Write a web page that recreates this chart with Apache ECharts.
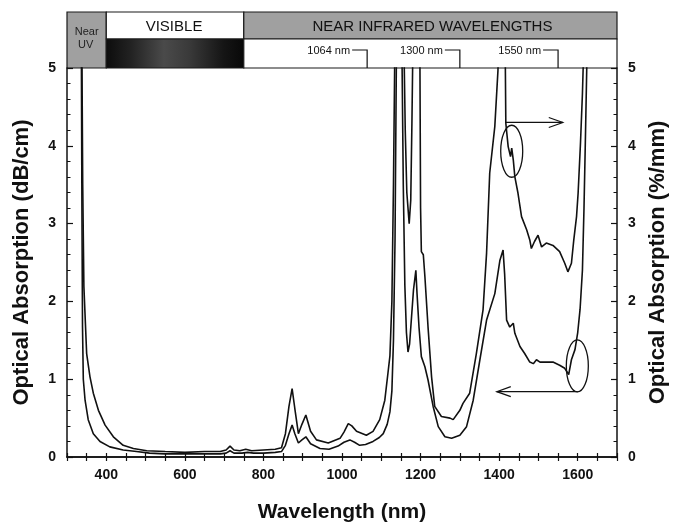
<!DOCTYPE html>
<html>
<head>
<meta charset="utf-8">
<script src="https://cdn.jsdelivr.net/npm/echarts@6/dist/echarts.min.js"></script>
<style>
  html, body { margin: 0; padding: 0; background: #ffffff; }
  #chart { width: 673px; height: 523px; }
</style>
</head>
<body>
<div id="chart"></div>
<script>
// Absorption of the polymer, in dB/cm (left axis)
const lowerNm = [333, 336, 338, 339.5, 341.5, 346, 354, 367, 384, 409, 443, 477, 510, 550, 600, 650, 690, 705, 715, 725, 745, 760, 775, 800, 830, 846, 856, 865, 873, 880, 889, 898, 908, 920, 944, 967, 990, 1005, 1020, 1032, 1045, 1060, 1079, 1095, 1105, 1115, 1122, 1127, 1131, 1135, 1139, 1146, 1152, 1156, 1160, 1164, 1168, 1172, 1177, 1182, 1188, 1191, 1196, 1202, 1211, 1219, 1232, 1245, 1262, 1279, 1300, 1317, 1334, 1351, 1368, 1389, 1402, 1410, 1414, 1419, 1427, 1436, 1440, 1453, 1465, 1478, 1487, 1495, 1504, 1520, 1537, 1554, 1567, 1577, 1584, 1593, 1600, 1606, 1612, 1616, 1620, 1623, 1626];
const lowerDb = [8, 6.0, 3.2, 1.67, 1.0, 0.73, 0.48, 0.30, 0.20, 0.13, 0.09, 0.07, 0.05, 0.04, 0.04, 0.04, 0.04, 0.05, 0.08, 0.05, 0.05, 0.06, 0.05, 0.05, 0.06, 0.07, 0.15, 0.30, 0.41, 0.30, 0.18, 0.22, 0.26, 0.17, 0.11, 0.10, 0.14, 0.19, 0.22, 0.19, 0.15, 0.16, 0.20, 0.25, 0.30, 0.42, 0.58, 0.85, 1.5, 2.8, 5.5, 7, 5.5, 3.5, 2.2, 1.6, 1.35, 1.45, 1.8, 2.15, 2.40, 2.1, 1.67, 1.29, 1.16, 0.99, 0.65, 0.39, 0.26, 0.24, 0.28, 0.39, 0.73, 1.25, 1.76, 2.1, 2.53, 2.66, 2.35, 1.76, 1.67, 1.72, 1.59, 1.42, 1.33, 1.22, 1.20, 1.25, 1.22, 1.22, 1.22, 1.18, 1.14, 1.06, 1.25, 1.38, 1.6, 1.9, 2.4, 3.2, 4.2, 5.0, 6.5];

// Absorption of the polymer, in %/mm (right axis)
const upperNm = [333, 337, 340, 343, 350, 358.5, 367, 380, 397, 418, 443, 469, 503, 550, 600, 650, 690, 705, 715, 725, 740, 755, 770, 800, 830, 846, 856, 865, 873, 880, 889, 898, 908, 920, 935, 965, 995, 1005, 1016, 1025, 1037, 1062, 1079, 1096, 1109, 1117, 1122, 1127, 1131, 1135, 1145, 1157, 1161, 1165, 1171, 1175, 1178, 1181, 1190, 1198, 1200, 1202, 1207, 1211, 1219, 1228, 1236, 1253, 1275, 1283, 1300, 1308, 1325, 1342, 1359, 1368, 1376, 1389, 1397, 1402, 1410, 1415, 1417, 1423, 1429, 1432, 1436, 1440, 1448, 1457, 1470, 1478, 1482, 1490, 1499, 1508, 1520, 1537, 1554, 1567, 1575, 1580, 1584, 1590, 1597, 1601, 1607, 1612, 1615, 1619];
const upperPct = [8, 6.0, 3.5, 2.19, 1.33, 1.03, 0.82, 0.60, 0.41, 0.26, 0.15, 0.11, 0.08, 0.07, 0.06, 0.07, 0.07, 0.09, 0.14, 0.09, 0.08, 0.10, 0.08, 0.09, 0.10, 0.12, 0.30, 0.65, 0.88, 0.62, 0.30, 0.42, 0.54, 0.33, 0.22, 0.18, 0.24, 0.32, 0.43, 0.40, 0.33, 0.28, 0.33, 0.48, 0.73, 1.08, 1.30, 2.0, 3.5, 5.5, 9, 5.5, 4.2, 3.4, 3.0, 3.3, 4.3, 5.5, 9, 5.5, 3.2, 2.64, 2.6, 2.32, 1.67, 1.03, 0.65, 0.52, 0.50, 0.48, 0.60, 0.69, 0.82, 1.33, 1.89, 2.62, 3.65, 4.25, 4.97, 6, 7, 5.5, 4.29, 3.99, 3.86, 3.97, 3.82, 3.60, 3.39, 3.09, 2.92, 2.79, 2.68, 2.77, 2.85, 2.70, 2.75, 2.72, 2.64, 2.49, 2.38, 2.36, 2.49, 2.79, 3.09, 3.39, 4.03, 4.67, 5.2, 7];

// Axis tick labels
const xTickLabels = [400, 600, 800, 1000, 1200, 1400, 1600];
const yTickLabels = [0, 1, 2, 3, 4, 5];

// Spectral bands shown above the plot
const bandNames = ['Near\nUV', 'VISIBLE', 'NEAR INFRARED WAVELENGTHS'];
const bandEdges = [300, 400, 750, 1700];

// Common laser wavelengths marked in the header
const laserNm = [1064, 1300, 1550];

const zip = (xs, ys) => xs.map((x, i) => [x, ys[i]]);
const FONT = '"Liberation Sans", Arial, Helvetica, sans-serif';
const INK = '#111111';

const chart = echarts.init(document.getElementById('chart'), null, { renderer: 'canvas' });

const yAxisBase = {
  type: 'value', min: 0, max: 5, interval: 1,
  axisLine: { show: true, lineStyle: { color: INK, width: 1.5 } },
  axisTick: { show: true, inside: true, length: 6, lineStyle: { color: INK, width: 1.2 } },
  minorTick: { show: true, splitNumber: 5, length: 3.5, lineStyle: { color: INK, width: 1 } },
  splitLine: { show: false },
  axisLabel: { color: INK, fontFamily: FONT, fontWeight: 'bold', fontSize: 14, margin: 11,
               customValues: yTickLabels, formatter: v => String(v) },
  nameLocation: 'middle', nameRotate: 90,
  nameTextStyle: { color: INK, fontFamily: FONT, fontWeight: 'bold', fontSize: 22 }
};

chart.setOption({
  animation: false,
  backgroundColor: '#ffffff',
  grid: { left: 67, right: 56, top: 68, bottom: 66, containLabel: false, outerBoundsMode: 'none' },
  xAxis: [
    {
      type: 'value', min: 300, max: 1700, interval: 50, position: 'bottom',
      axisLine: { show: true, lineStyle: { color: INK, width: 1.5 } },
      axisTick: { show: true, inside: true, length: 4, lineStyle: { color: INK, width: 1.2 } },
      splitLine: { show: false },
      axisLabel: { color: INK, fontFamily: FONT, fontWeight: 'bold', fontSize: 14, margin: 11,
                   customValues: xTickLabels, formatter: v => String(v) },
      name: 'Wavelength (nm)', nameLocation: 'middle', nameGap: 45,
      nameTextStyle: { color: INK, fontFamily: FONT, fontWeight: 'bold', fontSize: 21 }
    },
    {
      type: 'value', min: 300, max: 1700, interval: 50, position: 'top',
      axisLine: { show: true, lineStyle: { color: INK, width: 1.5 } },
      axisTick: { show: true, inside: true, length: 4, lineStyle: { color: INK, width: 1.2 } },
      splitLine: { show: false },
      axisLabel: { show: false }
    }
  ],
  yAxis: [
    Object.assign({}, yAxisBase, { position: 'left', name: 'Optical Absorption (dB/cm)', nameGap: 34 }),
    Object.assign({}, yAxisBase, { position: 'right', name: 'Optical Absorption (%/mm)', nameGap: 30 })
  ],
  series: [
    {
      name: 'dB/cm', type: 'line', xAxisIndex: 0, yAxisIndex: 0,
      data: zip(lowerNm, lowerDb), showSymbol: false, symbol: 'none', clip: true,
      lineStyle: { color: INK, width: 1.6 }
    },
    {
      name: '%/mm', type: 'line', xAxisIndex: 0, yAxisIndex: 1,
      data: zip(upperNm, upperPct), showSymbol: false, symbol: 'none', clip: true,
      lineStyle: { color: INK, width: 1.6 }
    }
  ]
});

// Header bands, laser markers and callouts, placed through the axis scales
const px = v => chart.convertToPixel({ xAxisIndex: 0 }, v);
const pyL = v => chart.convertToPixel({ yAxisIndex: 0 }, v);
const pyR = v => chart.convertToPixel({ yAxisIndex: 1 }, v);

const plotTop = pyL(5);
const headTop = plotTop - 56;
const rowSplit = plotTop - 29;
const GRAY = '#a0a0a0';
const edge = { stroke: '#1a1a1a', lineWidth: 1.2 };

const g = [];
const x0 = px(bandEdges[0]), x1 = px(bandEdges[1]), x2 = px(bandEdges[2]), x3 = px(bandEdges[3]);

// Near UV block (both rows)
g.push({ type: 'rect', shape: { x: x0, y: headTop, width: x1 - x0, height: plotTop - headTop },
         style: Object.assign({ fill: GRAY }, edge) });
const uvLines = bandNames[0].split('\n');
g.push({ type: 'text', style: { text: uvLines[0], x: (x0 + x1) / 2, y: rowSplit - 7, align: 'center', verticalAlign: 'middle',
         font: '11px ' + FONT, fill: '#222' } });
g.push({ type: 'text', style: { text: uvLines[1], x: (x0 + x1) / 2 - 1, y: rowSplit + 6, align: 'center', verticalAlign: 'middle',
         font: '11px ' + FONT, fill: '#222' } });

// Visible block: label row and colour strip
g.push({ type: 'rect', shape: { x: x1, y: headTop, width: x2 - x1, height: rowSplit - headTop },
         style: Object.assign({ fill: '#ffffff' }, edge) });
g.push({ type: 'rect', shape: { x: x1, y: rowSplit, width: x2 - x1, height: plotTop - rowSplit },
         style: Object.assign({
           fill: new echarts.graphic.LinearGradient(0, 0, 1, 0, [
             { offset: 0, color: '#0c0c0c' }, { offset: 0.18, color: '#222222' },
             { offset: 0.42, color: '#4a4a4a' }, { offset: 0.6, color: '#3a3a3a' },
             { offset: 0.85, color: '#151515' }, { offset: 1, color: '#080808' }
           ]) }, edge) });
g.push({ type: 'text', style: { text: bandNames[1], x: (x1 + x2) / 2 - 1, y: (headTop + rowSplit) / 2 + 1,
         align: 'center', verticalAlign: 'middle', font: '15px ' + FONT, fill: '#111' } });

// Near infrared block
g.push({ type: 'rect', shape: { x: x2, y: headTop, width: x3 - x2, height: rowSplit - headTop },
         style: Object.assign({ fill: GRAY }, edge) });
g.push({ type: 'rect', shape: { x: x2, y: rowSplit, width: x3 - x2, height: plotTop - rowSplit },
         style: Object.assign({ fill: '#ffffff' }, edge) });
g.push({ type: 'text', style: { text: bandNames[2], x: (x2 + x3) / 2 + 2, y: (headTop + rowSplit) / 2 + 1,
         align: 'center', verticalAlign: 'middle', font: '15px ' + FONT, fill: '#111' } });

// Laser wavelength brackets
laserNm.forEach(nm => {
  const xl = px(nm);
  const yb = rowSplit + 11;
  g.push({ type: 'polyline', shape: { points: [[xl - 15, yb], [xl, yb], [xl, plotTop]] },
           style: { stroke: '#111', lineWidth: 1.2, fill: null } });
  g.push({ type: 'text', style: { text: nm + ' nm', x: xl - 17, y: yb + 1, align: 'right', verticalAlign: 'middle',
           font: '11px ' + FONT, fill: '#111' } });
});

// Callouts: ellipse around a feature and an arrow to the axis it is read on
function callout(cx, cy, rx, ry, ax0, ay, ax1) {
  g.push({ type: 'ellipse', shape: { cx: cx, cy: cy, rx: rx, ry: ry },
           style: { stroke: '#111', lineWidth: 1.3, fill: null } });
  g.push({ type: 'line', shape: { x1: ax0, y1: ay, x2: ax1, y2: ay },
           style: { stroke: '#111', lineWidth: 1.2 } });
  const d = ax1 > ax0 ? -1 : 1;
  g.push({ type: 'polyline', shape: { points: [[ax1 + d * 14, ay - 5], [ax1, ay], [ax1 + d * 14, ay + 5]] },
           style: { stroke: '#111', lineWidth: 1.2, fill: null } });
}
callout(px(1432), pyR(3.93), 11, 26, px(1417), pyR(4.3), px(1562));
callout(px(1599), pyL(1.17), 11, 26, px(1600), pyL(0.84), px(1394));

chart.setOption({ graphic: { elements: g } });
</script>
</body>
</html>
